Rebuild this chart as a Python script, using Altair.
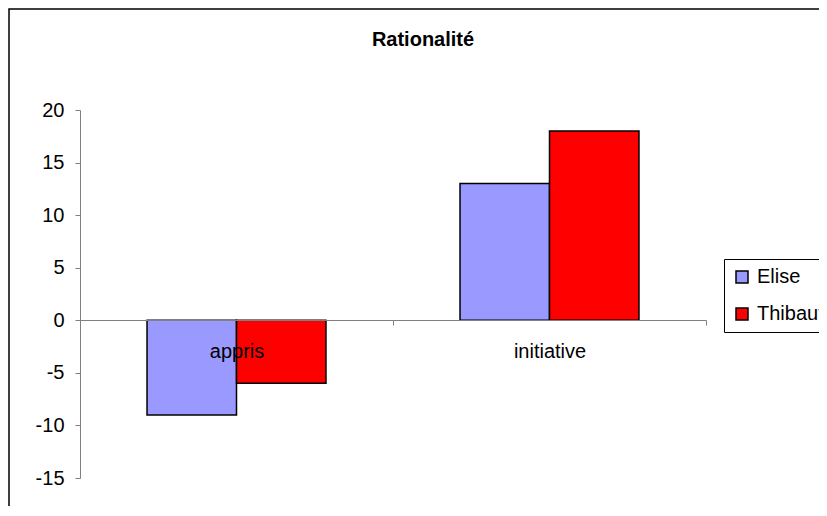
import altair as alt
import pandas as pd

title_text = ["Rationalité"]
categories = ["appris", "initiative"]
series = ["Elise", "Thibaut"]
elise = [-9, 13]
thibaut = [-6, 18]
colors = ["#9999FF", "#FF0000"]
y_ticks = [-15, -10, -5, 0, 5, 10, 15, 20]

rows = []
for i, c in enumerate(categories):
    rows.append({"cat": c, "serie": "Elise", "val": elise[i]})
    rows.append({"cat": c, "serie": "Thibaut", "val": thibaut[i]})
df = pd.DataFrame(rows)

FONT = "Liberation Sans"

bars = alt.Chart(df).mark_bar(stroke="black", strokeWidth=1.5).encode(
    x=alt.X(
        "cat:N",
        sort=categories,
        scale=alt.Scale(paddingInner=0, paddingOuter=0),
        axis=alt.Axis(
            title=None,
            orient="bottom",
            offset=-158,
            tickBand="extent",
            labelAngle=0,
            tickSize=5,
            labelPadding=16,
            domainColor="#808080",
            tickColor="#808080",
            labelColor="black",
            labelFont=FONT,
            labelFontSize=20,
            zindex=1,
        ),
    ),
    xOffset=alt.XOffset(
        "serie:N", sort=series, scale=alt.Scale(paddingInner=0, paddingOuter=0.749)
    ),
    y=alt.Y(
        "val:Q",
        scale=alt.Scale(domain=[-15, 20], nice=False, zero=False),
        axis=alt.Axis(
            title=None,
            values=y_ticks,
            grid=False,
            tickSize=5,
            labelPadding=11,
            labelExpr="'' + datum.value",
            domainColor="#808080",
            tickColor="#808080",
            labelColor="black",
            labelFont=FONT,
            labelFontSize=20,
        ),
    ),
    color=alt.Color(
        "serie:N",
        sort=series,
        scale=alt.Scale(domain=series, range=colors),
        legend=alt.Legend(
            title=None,
            orient="none",
            legendX=644,
            legendY=149,
            strokeColor="black",
            fillColor="white",
            padding=8,
            cornerRadius=0,
            symbolType="square",
            symbolSize=144,
            symbolStrokeColor="black",
            symbolStrokeWidth=1.5,
            labelFont=FONT,
            labelFontSize=20,
            labelColor="black",
            labelOffset=5,
            rowPadding=17,
        ),
    ),
)

frame_df = pd.DataFrame({"a": [0]})
frame = alt.Chart(frame_df).mark_rect(
    fillOpacity=0, stroke="black", strokeWidth=1.5
).encode(
    x=alt.value(-71), x2=alt.value(780), y=alt.value(-101), y2=alt.value(440)
)

title = alt.Chart(pd.DataFrame({"t": title_text})).mark_text(
    font=FONT, fontSize=20, fontWeight="bold", color="black",
    align="center", baseline="middle",
).encode(text="t:N", x=alt.value(343), y=alt.value(-70))

chart = alt.layer(frame, title, bars).properties(
    width=626,
    height=368,
    background="white",
    padding={"left": 72, "top": 102, "right": 113, "bottom": 28},
    autosize=alt.AutoSizeParams(type="none"),
).configure_view(stroke="transparent", strokeWidth=0)

chart.save("out.html", embed_options={"renderer": "svg", "actions": False})
